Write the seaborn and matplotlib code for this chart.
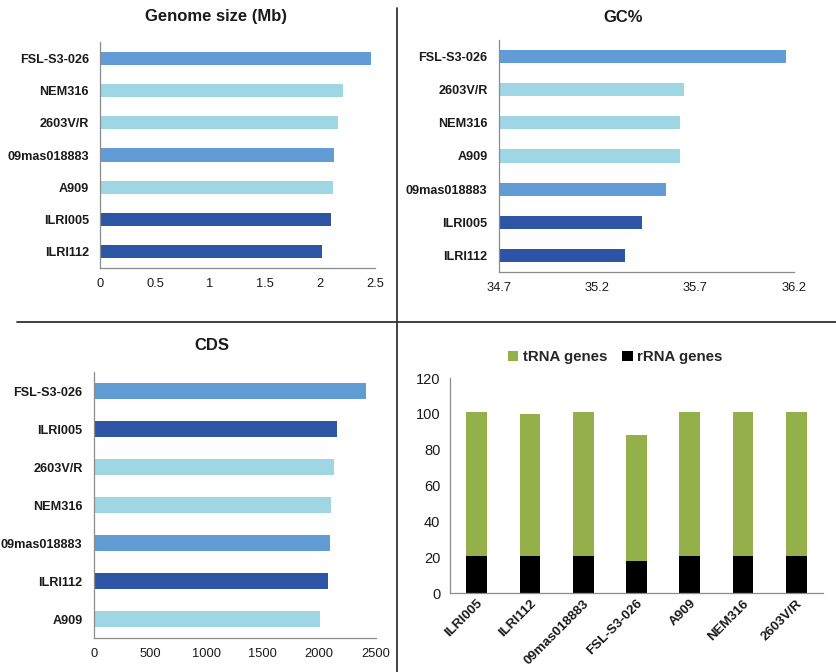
import matplotlib
matplotlib.use("Agg")
import matplotlib.pyplot as plt
import seaborn as sns
import pandas as pd
import numpy as np
from matplotlib.lines import Line2D
from matplotlib.patches import Patch

sns.set_theme(style="white")
plt.rcParams['font.family'] = ['Liberation Sans', 'DejaVu Sans']

MED = "#619CD4"
LIGHT = "#9ED6E3"
DARK = "#2E54A5"
GREEN = "#94B04B"

strain_colors = {
    "FSL-S3-026": MED, "09mas018883": MED,
    "NEM316": LIGHT, "2603V/R": LIGHT, "A909": LIGHT,
    "ILRI005": DARK, "ILRI112": DARK,
}

# Genome size (Mb)
genome_strains = ["FSL-S3-026", "NEM316", "2603V/R", "09mas018883", "A909", "ILRI005", "ILRI112"]
genome_size = [2.46, 2.21, 2.16, 2.13, 2.12, 2.10, 2.02]
genome_ticks = [0, 0.5, 1, 1.5, 2, 2.5]
genome_ticklabels = ["0", "0.5", "1", "1.5", "2", "2.5"]

# GC%
gc_strains = ["FSL-S3-026", "2603V/R", "NEM316", "A909", "09mas018883", "ILRI005", "ILRI112"]
gc_content = [36.16, 35.64, 35.62, 35.62, 35.55, 35.43, 35.34]
gc_ticks = [34.7, 35.2, 35.7, 36.2]
gc_ticklabels = ["34.7", "35.2", "35.7", "36.2"]

# CDS
cds_strains = ["FSL-S3-026", "ILRI005", "2603V/R", "NEM316", "09mas018883", "ILRI112", "A909"]
cds_count = [2414, 2154, 2130, 2104, 2095, 2080, 2006]
cds_ticks = [0, 500, 1000, 1500, 2000, 2500]
cds_ticklabels = ["0", "500", "1000", "1500", "2000", "2500"]

# RNA genes
rna_strains = ["ILRI005", "ILRI112", "09mas018883", "FSL-S3-026", "A909", "NEM316", "2603V/R"]
trna_genes = [80, 79, 80, 70, 80, 80, 80]
rrna_genes = [21, 21, 21, 18, 21, 21, 21]
rna_ticks = [0, 20, 40, 60, 80, 100, 120]

W, H = 837, 672
fig = plt.figure(figsize=(W / 100, H / 100), dpi=100)

def rect(l, r, t, b):
    return [l / W, 1 - b / H, (r - l) / W, (b - t) / H]

SPINE = "#8C8C8C"
TXT = "#1a1a1a"

def style_hbar(ax, n, xticks, xlabels, xlim):
    ax.set_xlim(*xlim)
    ax.set_ylim(n - 0.5, -0.5)
    ax.set_xticks(xticks)
    ax.set_xticklabels(xlabels, fontsize=9.3, color=TXT)
    for lab in ax.get_yticklabels():
        lab.set_fontweight("bold")
        lab.set_fontsize(9.1)
        lab.set_color(TXT)
    ax.set_yticks(np.arange(-0.5, n, 1.0), minor=True)
    ax.tick_params(axis="y", which="major", length=0, pad=8)
    ax.tick_params(axis="y", which="minor", length=4, color=SPINE, width=0.9, direction="out")
    ax.tick_params(axis="x", which="major", length=4, color=SPINE, width=0.9, direction="out", pad=3)
    ax.set_xlabel("")
    ax.set_ylabel("")
    for s in ["top", "right"]:
        ax.spines[s].set_visible(False)
    for s in ["left", "bottom"]:
        ax.spines[s].set_color(SPINE)
        ax.spines[s].set_linewidth(0.9)

def hbar(pos, strains, vals, width, xticks, xlabels, xlim):
    ax = fig.add_axes(pos)
    df = pd.DataFrame({"strain": strains, "val": vals})
    sns.barplot(data=df, x="val", y="strain", hue="strain", order=strains,
                palette=[strain_colors[s] for s in strains], legend=False,
                orient="h", width=width, ax=ax, saturation=1, linewidth=0)
    style_hbar(ax, len(strains), xticks, xlabels, xlim)
    return ax

hbar(rect(100, 375, 42, 268), genome_strains, genome_size, 0.41, genome_ticks, genome_ticklabels, (0, 2.5))
hbar(rect(498.7, 793.7, 40, 272), gc_strains, gc_content, 0.40, gc_ticks, gc_ticklabels, (34.7, 36.2))
hbar(rect(93.7, 375.7, 372, 638), cds_strains, cds_count, 0.40, cds_ticks, cds_ticklabels, (0, 2500))

# Stacked RNA bars
ax4 = fig.add_axes(rect(450, 823, 378, 593.3))
total = [t + r for t, r in zip(trna_genes, rrna_genes)]
df_tot = pd.DataFrame({"strain": rna_strains, "val": total})
df_r = pd.DataFrame({"strain": rna_strains, "val": rrna_genes})
sns.barplot(data=df_tot, x="strain", y="val", order=rna_strains, color=GREEN,
            width=0.39, ax=ax4, saturation=1, linewidth=0)
sns.barplot(data=df_r, x="strain", y="val", order=rna_strains, color="black",
            width=0.39, ax=ax4, saturation=1, linewidth=0)
ax4.set_ylim(0, 120)
ax4.set_xlim(-0.5, len(rna_strains) - 0.5)
ax4.set_yticks(rna_ticks)
ax4.set_yticklabels([str(v) for v in rna_ticks], fontsize=10.5, color=TXT)
ax4.set_xticks(range(len(rna_strains)))
ax4.set_xticklabels(rna_strains, rotation=45, ha="right", rotation_mode="anchor",
                    fontsize=9.6, fontweight="bold", color=TXT)
ax4.set_xticks(np.arange(-0.5, len(rna_strains), 1.0), minor=True)
ax4.tick_params(axis="x", which="major", length=0, pad=3)
ax4.tick_params(axis="x", which="minor", length=4, color=SPINE, width=0.9, direction="out")
ax4.tick_params(axis="y", which="major", length=4, color=SPINE, width=0.9, direction="out", pad=3)
ax4.set_xlabel("")
ax4.set_ylabel("")
for s in ["top", "right"]:
    ax4.spines[s].set_visible(False)
for s in ["left", "bottom"]:
    ax4.spines[s].set_color(SPINE)
    ax4.spines[s].set_linewidth(0.9)

handles = [Patch(facecolor=GREEN, edgecolor="none"), Patch(facecolor="black", edgecolor="none")]
fig.legend(handles, ["tRNA genes", "rRNA genes"], loc="center", bbox_to_anchor=(615 / W, 1 - 357 / H),
           ncol=2, frameon=False, prop={"weight": "bold", "size": 10.8},
           handlelength=0.7, handleheight=0.7, handletextpad=0.3, columnspacing=1.0)

# Titles
fig.text(216 / W, 1 - 17 / H, "Genome size (Mb)", ha="center", va="center", fontsize=12, fontweight="bold", color=TXT)
fig.text(623 / W, 1 - 17 / H, "GC%", ha="center", va="center", fontsize=12, fontweight="bold", color=TXT)
fig.text(212 / W, 1 - 346 / H, "CDS", ha="center", va="center", fontsize=12, fontweight="bold", color=TXT)

# Divider lines
fig.add_artist(Line2D([397 / W, 397 / W], [0, 1 - 8 / H], transform=fig.transFigure, color="#333333", lw=1.3))
fig.add_artist(Line2D([17 / W, 1], [1 - 322 / H, 1 - 322 / H], transform=fig.transFigure, color="#333333", lw=1.3))

fig.savefig("out.png", dpi=100)
